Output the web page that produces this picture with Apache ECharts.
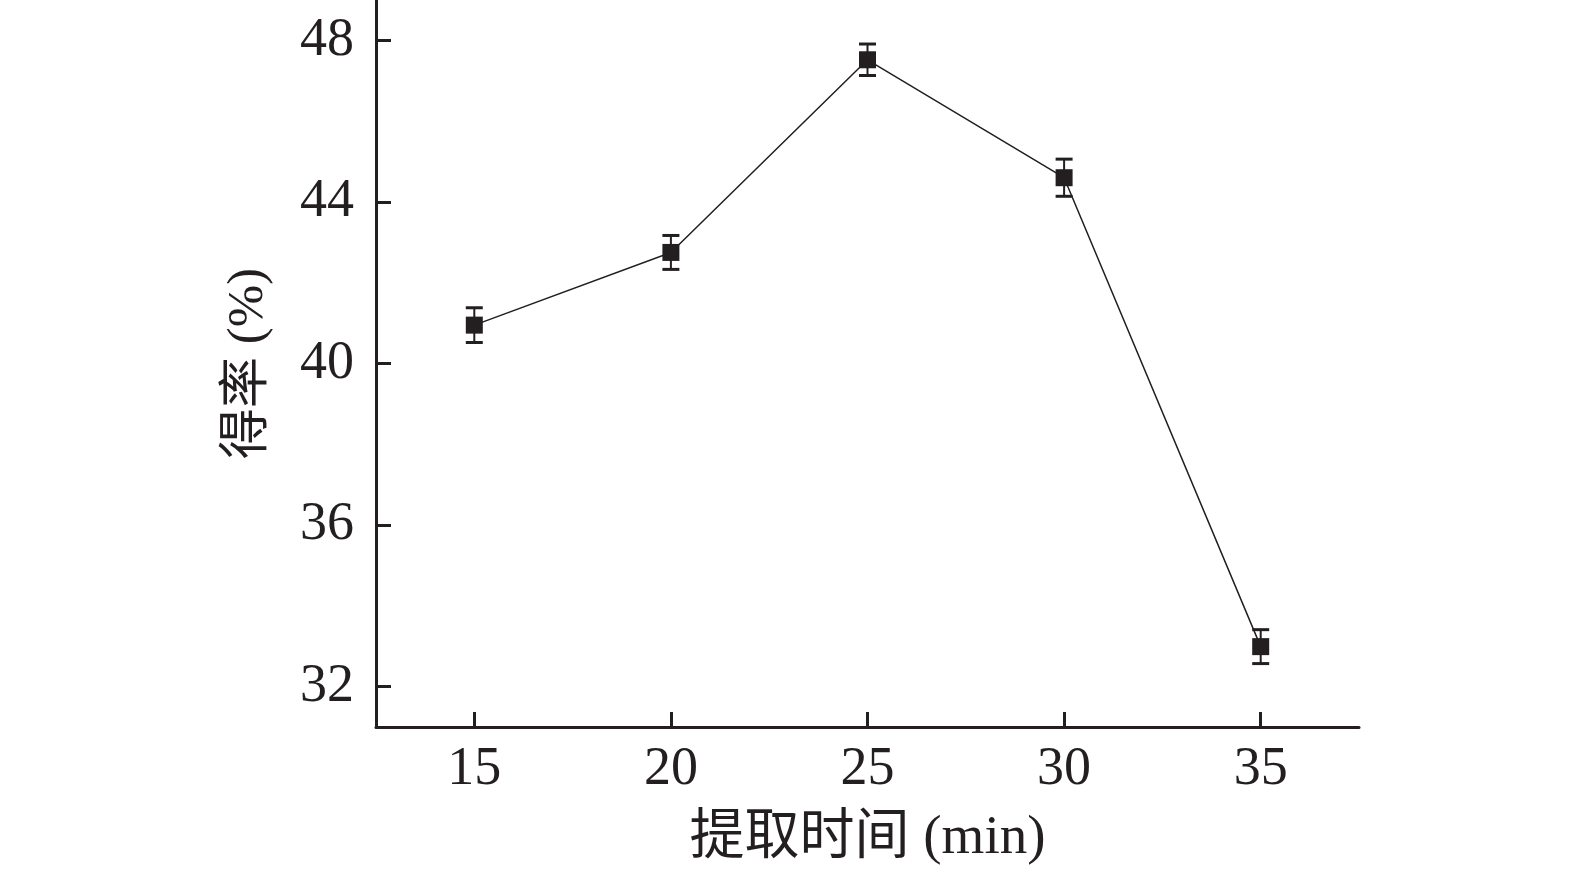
<!DOCTYPE html>
<html>
<head>
<meta charset="utf-8">
<script src="https://cdn.jsdelivr.net/npm/echarts@6/dist/echarts.min.js"></script>
<style>
html,body{margin:0;padding:0;background:#fff;}
#chart{width:1575px;height:872px;}
</style>
</head>
<body>
<div id="chart"></div>
<script>
const times = [15, 20, 25, 30, 35];
const yields = [40.95, 42.75, 47.52, 44.6, 32.99];
const errors = [0.43, 0.42, 0.39, 0.46, 0.42];
const xTicks = [15, 20, 25, 30, 35];
const yTicks = [32, 36, 40, 44, 48];
const xName = '提取时间 (min)';
const yName = '得率 (%)';

const ink = '#231f20';
const font = '"Liberation Serif", "Noto Sans CJK SC", serif';

const chart = echarts.init(document.getElementById('chart'), null, {renderer: 'canvas'});
const lineData = times.map((t, i) => [t, yields[i]]);
const errData = times.map((t, i) => [t, yields[i] - errors[i], yields[i] + errors[i]]);

chart.setOption({
  animation: false,
  backgroundColor: '#fff',
  grid: {left: 376, right: 216, top: 0, bottom: 145, containLabel: false},
  xAxis: {
    type: 'value', min: 12.5, max: 37.5,
    name: xName, nameLocation: 'middle', nameGap: 84,
    nameTextStyle: {fontFamily: font, fontSize: 55, color: ink},
    axisLine: {show: true, onZero: false, lineStyle: {color: ink, width: 3}},
    axisTick: {show: true, inside: true, length: 15, lineStyle: {color: ink, width: 3}, customValues: xTicks},
    axisLabel: {fontFamily: font, fontSize: 54, color: ink, margin: 16, customValues: xTicks},
    splitLine: {show: false}
  },
  yAxis: {
    type: 'value', min: 31, max: 49,
    name: yName, nameLocation: 'middle', nameGap: 102, nameRotate: 90,
    nameTextStyle: {fontFamily: font, fontSize: 51, color: ink},
    axisLine: {show: true, onZero: false, lineStyle: {color: ink, width: 3}},
    axisTick: {show: true, inside: true, length: 15, lineStyle: {color: ink, width: 3}, customValues: yTicks},
    axisLabel: {fontFamily: font, fontSize: 54, color: ink, margin: 22, customValues: yTicks},
    splitLine: {show: false}
  },
  series: [
    {
      type: 'custom',
      data: errData,
      z: 2,
      renderItem: function (params, api) {
        const x = api.value(0);
        const lo = api.coord([x, api.value(1)]);
        const hi = api.coord([x, api.value(2)]);
        const hw = 8.5;
        return {
          type: 'group',
          children: [
            {type: 'line', shape: {x1: lo[0], y1: lo[1], x2: hi[0], y2: hi[1]}, style: {stroke: ink, lineWidth: 2}},
            {type: 'line', shape: {x1: lo[0] - hw, y1: lo[1], x2: lo[0] + hw, y2: lo[1]}, style: {stroke: ink, lineWidth: 3}},
            {type: 'line', shape: {x1: hi[0] - hw, y1: hi[1], x2: hi[0] + hw, y2: hi[1]}, style: {stroke: ink, lineWidth: 3}}
          ]
        };
      }
    },
    {
      type: 'line',
      data: lineData,
      z: 3,
      symbol: 'rect',
      symbolSize: 17,
      itemStyle: {color: ink},
      lineStyle: {color: ink, width: 1.5}
    }
  ]
});
</script>
</body>
</html>
